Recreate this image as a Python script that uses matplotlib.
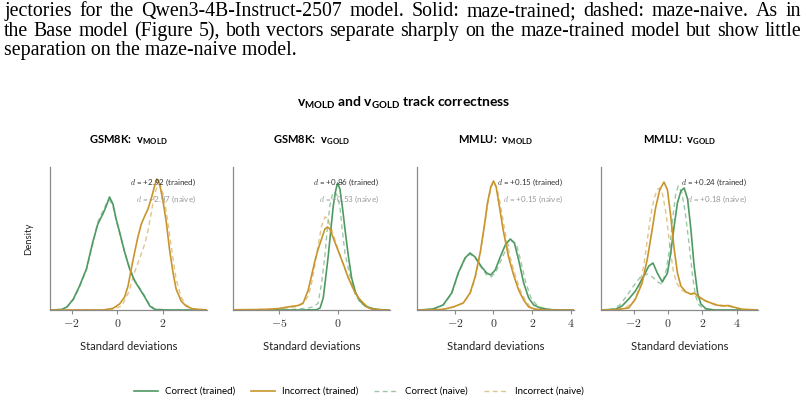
import matplotlib
matplotlib.use("Agg")
import matplotlib.pyplot as plt
from matplotlib.ticker import FuncFormatter
from matplotlib.lines import Line2D

plt.rcParams['font.family'] = ['Lato', 'DejaVu Sans']
plt.rcParams['mathtext.fontset'] = 'cm'
plt.rcParams['mathtext.rm'] = 'Lato'
plt.rcParams['mathtext.it'] = 'Lato:italic'
plt.rcParams['mathtext.bf'] = 'Lato:bold'

GREEN = "#4f9a62"
GOLD = "#c8952b"

# ---- data (density, arbitrary units) ----
panel_titles = ["GSM8K:", "GSM8K:", "MMLU:", "MMLU:"]
panel_vecs = ["MOLD", "GOLD", "MOLD", "GOLD"]
d_trained = ["+2.92", "+0.86", "+0.15", "+0.24"]
d_naive = ["+2.97", "+0.53", "+0.15", "+0.18"]
x_limits = [(-2.94, 3.92), (-8.94, 4.48), (-3.95, 4.16), (-3.89, 5.23)]
x_ticks = [[-2, 0, 2], [-5, 0], [-2, 0, 2, 4], [-2, 0, 2, 4]]

# GSM8K v_MOLD
gm_cor_tr_x = [-2.94, -2.43, -2.2, -1.92, -1.65, -1.35, -1.07, -0.85, -0.63, -0.48, -0.34, -0.19, -0.05,
               0.10, 0.32, 0.54, 0.76, 0.98, 1.20, 1.42, 1.64, 2.2, 3.92]
gm_cor_tr_y = [0, 0.5, 3, 11, 24, 41, 68, 86, 96, 104, 113, 106, 91, 78, 58, 41, 29, 21, 13, 4, 0.5, 0, 0]
gm_cor_nv_x = [-2.94, -2.43, -2.2, -1.92, -1.65, -1.35, -1.07, -0.85, -0.63, -0.48, -0.34, -0.19, -0.05,
               0.10, 0.32, 0.54, 0.76, 0.98, 1.20, 1.42, 1.64, 2.2, 3.92]
gm_cor_nv_y = [0, 0.5, 3, 10, 23, 40, 66, 88, 99, 106, 110, 104, 90, 77, 58, 42, 30, 22, 14, 5, 1, 0, 0]
gm_inc_tr_x = [-2.94, -0.6, -0.19, 0.10, 0.32, 0.47, 0.61, 0.76, 0.90, 1.05, 1.20, 1.34, 1.49, 1.63, 1.73,
               1.84, 1.99, 2.14, 2.28, 2.43, 2.57, 2.79, 3.00, 3.30, 3.92]
gm_inc_tr_y = [0, 0, 1.7, 6, 13, 24, 41, 58, 73, 86, 94, 101, 112, 124, 131, 127, 110, 88, 61, 38, 21, 9, 4, 1, 0]
gm_inc_nv_x = [-2.94, -0.3, 0.2, 0.5, 0.76, 1.0, 1.2, 1.34, 1.49, 1.63, 1.78, 1.9, 2.0, 2.14, 2.28, 2.43,
               2.57, 2.79, 3.0, 3.3, 3.92]
gm_inc_nv_y = [0, 0, 4, 18, 38, 53, 66, 79, 98, 116, 126, 124, 116, 99, 76, 52, 31, 13, 5, 1.5, 0]

# GSM8K v_GOLD
gg_cor_tr_x = [-8.94, -3, -1.8, -1.5, -1.23, -1.03, -0.8, -0.57, -0.37, -0.17, 0.0, 0.2, 0.4, 0.63, 0.92,
               1.2, 1.55, 1.92, 2.35, 2.92, 3.6, 4.48]
gg_cor_tr_y = [0, 0, 0.3, 2, 12, 31, 54, 81, 104, 119, 127, 121, 104, 81, 54, 32, 17, 9, 4, 1.5, 0.3, 0]
gg_cor_nv_x = [-8.94, -4, -2.5, -2.0, -1.66, -1.37, -1.09, -0.86, -0.66, -0.43, -0.25, -0.05, 0.2, 0.4,
               0.63, 1.06, 1.49, 1.9, 2.4, 3.0, 3.6, 4.48]
gg_cor_nv_y = [0, 0.3, 2, 3.5, 7, 27, 54, 84, 104, 116, 118, 115, 103, 80, 57, 34, 16, 8, 4, 1.5, 0.3, 0]
gg_inc_tr_x = [-8.94, -7, -6, -5, -4, -3.37, -2.94, -2.51, -2.23, -1.94, -1.66, -1.37, -1.09, -0.86, -0.66,
               -0.37, 0.06, 0.49, 0.92, 1.35, 1.78, 2.2, 2.5, 2.9, 3.5, 4.48]
gg_inc_tr_y = [0.2, 0.4, 0.7, 1.5, 3.5, 4.5, 7, 20, 34, 49, 61, 71, 81, 83, 81, 72, 59, 46, 32, 21, 12, 7, 3,
               1, 0.3, 0]
gg_inc_nv_x = [-8.94, -6, -5, -4, -3.5, -3.0, -2.5, -2.2, -1.94, -1.66, -1.37, -1.09, -0.86, -0.5, 0.0, 0.5,
               1.0, 1.5, 2.0, 2.5, 3.0, 3.6, 4.48]
gg_inc_nv_y = [0.2, 0.6, 1.3, 2.5, 3.5, 6, 14, 28, 45, 65, 84, 93, 92, 80, 62, 45, 30, 17, 9, 4, 1.5, 0.4, 0]

# MMLU v_MOLD
mm_cor_tr_x = [-3.95, -3.6, -3.12, -2.6, -2.16, -1.82, -1.47, -1.21, -0.95, -0.61, -0.35, -0.14, 0.09, 0.35,
               0.61, 0.87, 1.08, 1.30, 1.56, 1.82, 2.08, 2.42, 2.94, 3.5, 4.16]
mm_cor_tr_y = [0, 0.3, 1, 5, 17, 37, 52, 57, 53, 43, 37, 35, 40, 53, 65, 71, 67, 50, 27, 12, 5, 2, 0.3, 0, 0]
mm_cor_nv_x = [-3.95, -3.6, -3.12, -2.6, -2.16, -1.82, -1.47, -1.21, -0.95, -0.61, -0.35, -0.12, 0.12, 0.42,
               0.7, 0.97, 1.18, 1.40, 1.66, 1.92, 2.18, 2.52, 3.04, 3.6, 4.16]
mm_cor_nv_y = [0, 0.3, 1, 5, 16, 36, 51, 56, 52, 42, 35, 33, 38, 51, 63, 69, 66, 50, 28, 13, 6, 2, 0.3, 0, 0]
mm_inc_tr_x = [-3.95, -3.0, -2.6, -2.08, -1.56, -1.21, -0.95, -0.69, -0.48, -0.31, -0.14, 0.0, 0.14, 0.31,
               0.52, 0.78, 1.04, 1.30, 1.56, 1.82, 2.16, 2.8, 4.16]
mm_inc_tr_y = [0, 0.2, 0.7, 3, 7, 17, 33, 57, 83, 107, 123, 129, 123, 103, 78, 53, 35, 20, 10, 3, 0.7, 0, 0]
mm_inc_nv_x = [-3.95, -3.0, -2.6, -2.08, -1.56, -1.21, -0.95, -0.69, -0.48, -0.31, -0.14, 0.02, 0.18, 0.38,
               0.6, 0.86, 1.12, 1.38, 1.64, 1.9, 2.24, 2.9, 4.16]
mm_inc_nv_y = [0, 0.2, 0.7, 3, 7, 16, 31, 55, 81, 105, 122, 128, 122, 103, 78, 53, 35, 20, 10, 3, 0.7, 0, 0]

# MMLU v_GOLD
mg_cor_tr_x = [-3.89, -3.06, -2.67, -2.28, -1.89, -1.5, -1.11, -0.87, -0.62, -0.33, -0.03, 0.16, 0.36, 0.55,
               0.75, 0.94, 1.14, 1.33, 1.52, 1.72, 1.91, 2.2, 2.7, 5.23]
mg_cor_tr_y = [0, 0.7, 4, 11, 19, 31, 44, 47, 37, 28, 37, 57, 84, 107, 119, 122, 111, 81, 44, 17, 6, 1.3, 0, 0]
mg_cor_nv_x = [-3.89, -3.2, -2.8, -2.4, -2.0, -1.6, -1.2, -0.9, -0.6, -0.35, -0.1, 0.1, 0.3, 0.45, 0.6, 0.8,
               1.0, 1.2, 1.4, 1.6, 1.8, 2.1, 2.6, 5.23]
mg_cor_nv_y = [0, 1, 5, 14, 24, 33, 36, 33, 28, 26, 40, 62, 95, 116, 124, 118, 98, 70, 38, 14, 5, 1, 0, 0]
mg_inc_tr_x = [-3.89, -3.06, -2.28, -1.89, -1.5, -1.2, -0.95, -0.72, -0.48, -0.23, -0.03, 0.16, 0.36, 0.55,
               0.75, 1.04, 1.33, 1.52, 1.81, 2.2, 2.79, 3.2, 3.5, 3.8, 4.3, 5.23]
mg_inc_tr_y = [0, 0.3, 2, 11, 27, 51, 77, 102, 120, 128, 120, 94, 61, 37, 24, 18, 16, 17, 13, 9, 5, 4, 4.5,
               3, 0.8, 0]
mg_inc_nv_x = [-3.89, -3.0, -2.5, -2.0, -1.7, -1.4, -1.2, -1.0, -0.8, -0.6, -0.45, -0.3, -0.1, 0.1, 0.3, 0.5,
               0.8, 1.1, 1.5, 2.0, 2.5, 3.0, 3.5, 4.0, 4.5, 5.23]
mg_inc_nv_y = [0, 0.5, 2, 8, 20, 45, 70, 95, 112, 121, 122, 115, 95, 65, 40, 27, 20, 17, 15, 10, 7, 5, 4,
               1.5, 0.3, 0]

panels = [
    (gm_cor_tr_x, gm_cor_tr_y, gm_inc_tr_x, gm_inc_tr_y, gm_cor_nv_x, gm_cor_nv_y, gm_inc_nv_x, gm_inc_nv_y),
    (gg_cor_tr_x, gg_cor_tr_y, gg_inc_tr_x, gg_inc_tr_y, gg_cor_nv_x, gg_cor_nv_y, gg_inc_nv_x, gg_inc_nv_y),
    (mm_cor_tr_x, mm_cor_tr_y, mm_inc_tr_x, mm_inc_tr_y, mm_cor_nv_x, mm_cor_nv_y, mm_inc_nv_x, mm_inc_nv_y),
    (mg_cor_tr_x, mg_cor_tr_y, mg_inc_tr_x, mg_inc_tr_y, mg_cor_nv_x, mg_cor_nv_y, mg_inc_nv_x, mg_inc_nv_y),
]

para_lines = [
    "jectories for the Qwen3-4B-Instruct-2507 model.  Solid: maze-trained; dashed: maze-naive.  As in",
    "the Base model (Figure 5), both vectors separate sharply on the maze-trained model but show little",
    "separation on the maze-naive model.",
]

W, H = 806, 403
fig = plt.figure(figsize=(W / 100, H / 100), dpi=100)
renderer = fig.canvas.get_renderer()


def justify(line, y_px, x0, x1, **kw):
    words = line.split()
    texts = [fig.text(0, 1 - y_px / H, w, va='baseline', **kw) for w in words]
    widths = [t.get_window_extent(renderer).width for t in texts]
    gap = (x1 - x0 - sum(widths)) / (len(words) - 1)
    x = x0
    for t, w in zip(texts, widths):
        t.set_x(x / W)
        x += w + gap


serif = dict(family='Liberation Serif', fontsize=14.3, color='black')
justify(para_lines[0], 16, 4, 801, **serif)
justify(para_lines[1], 36, 4, 801, **serif)
fig.text(4 / W, 1 - 55 / H, para_lines[2], va='baseline', **serif)

fig.text(404 / W, 1 - 103 / H,
         r"$\mathbf{v}_{\mathbf{MOLD}}$ and $\mathbf{v}_{\mathbf{GOLD}}$ track correctness",
         ha='center', va='center', fontsize=10, fontweight='bold', math_fontfamily='custom')

lefts = [50, 233, 417, 601]
fmt = FuncFormatter(lambda v, p: f"${v:g}$")
for i, ax_left in enumerate(lefts):
    ax = fig.add_axes([ax_left / W, (H - 310) / H, 157 / W, 143 / H])
    cx, cy, ix, iy, cnx, cny, inx, iny = panels[i]
    ax.plot(cnx, cny, color=GREEN, lw=1.0, alpha=0.55, ls=(0, (3.5, 2.5)))
    ax.plot(inx, iny, color=GOLD, lw=1.0, alpha=0.55, ls=(0, (3.5, 2.5)))
    ax.plot(cx, cy, color=GREEN, lw=1.2)
    ax.plot(ix, iy, color=GOLD, lw=1.2)
    ax.set_xlim(*x_limits[i])
    ax.set_ylim(0, 143)
    ax.set_xticks(x_ticks[i])
    ax.xaxis.set_major_formatter(fmt)
    ax.set_yticks([])
    for s in ['top', 'right']:
        ax.spines[s].set_visible(False)
    for s in ['left', 'bottom']:
        ax.spines[s].set_color('#8a8a8a')
        ax.spines[s].set_linewidth(0.9)
    ax.tick_params(axis='x', colors='#8a8a8a', length=3, width=0.8, labelsize=8.5, labelcolor='#333333', pad=2)
    ax.set_xlabel("Standard deviations", fontsize=8, color='#222222', labelpad=9)
    ax.set_title(panel_titles[i] + r"$\ \ \mathbf{v}_{\mathbf{" + panel_vecs[i] + "}}$",
                 fontsize=8, fontweight='bold', pad=17, math_fontfamily='custom')
    ax.text(0.93, 0.895, r"$d$ = " + d_trained[i] + " (trained)", transform=ax.transAxes,
            ha='right', va='center', fontsize=5.8, color='#333333')
    ax.text(0.93, 0.776, r"$d$ = " + d_naive[i] + " (naive)", transform=ax.transAxes,
            ha='right', va='center', fontsize=5.8, color='#9a9a9a')
    if i == 0:
        ax.set_ylabel("Density", fontsize=6.8, color='#222222', labelpad=12)

handles = [
    Line2D([], [], color=GREEN, lw=1.2),
    Line2D([], [], color=GOLD, lw=1.2),
    Line2D([], [], color=GREEN, lw=1.0, alpha=0.55, ls=(0, (3.5, 2.5))),
    Line2D([], [], color=GOLD, lw=1.0, alpha=0.55, ls=(0, (3.5, 2.5))),
]
labels = ["Correct (trained)", "Incorrect (trained)", "Correct (naive)", "Incorrect (naive)"]
fig.legend(handles, labels, loc='center', bbox_to_anchor=(359 / W, 1 - 391.5 / H), ncol=4, frameon=False,
           fontsize=7, handlelength=2.4, handletextpad=0.8, columnspacing=1.6)

fig.savefig("out.png", dpi=100)
